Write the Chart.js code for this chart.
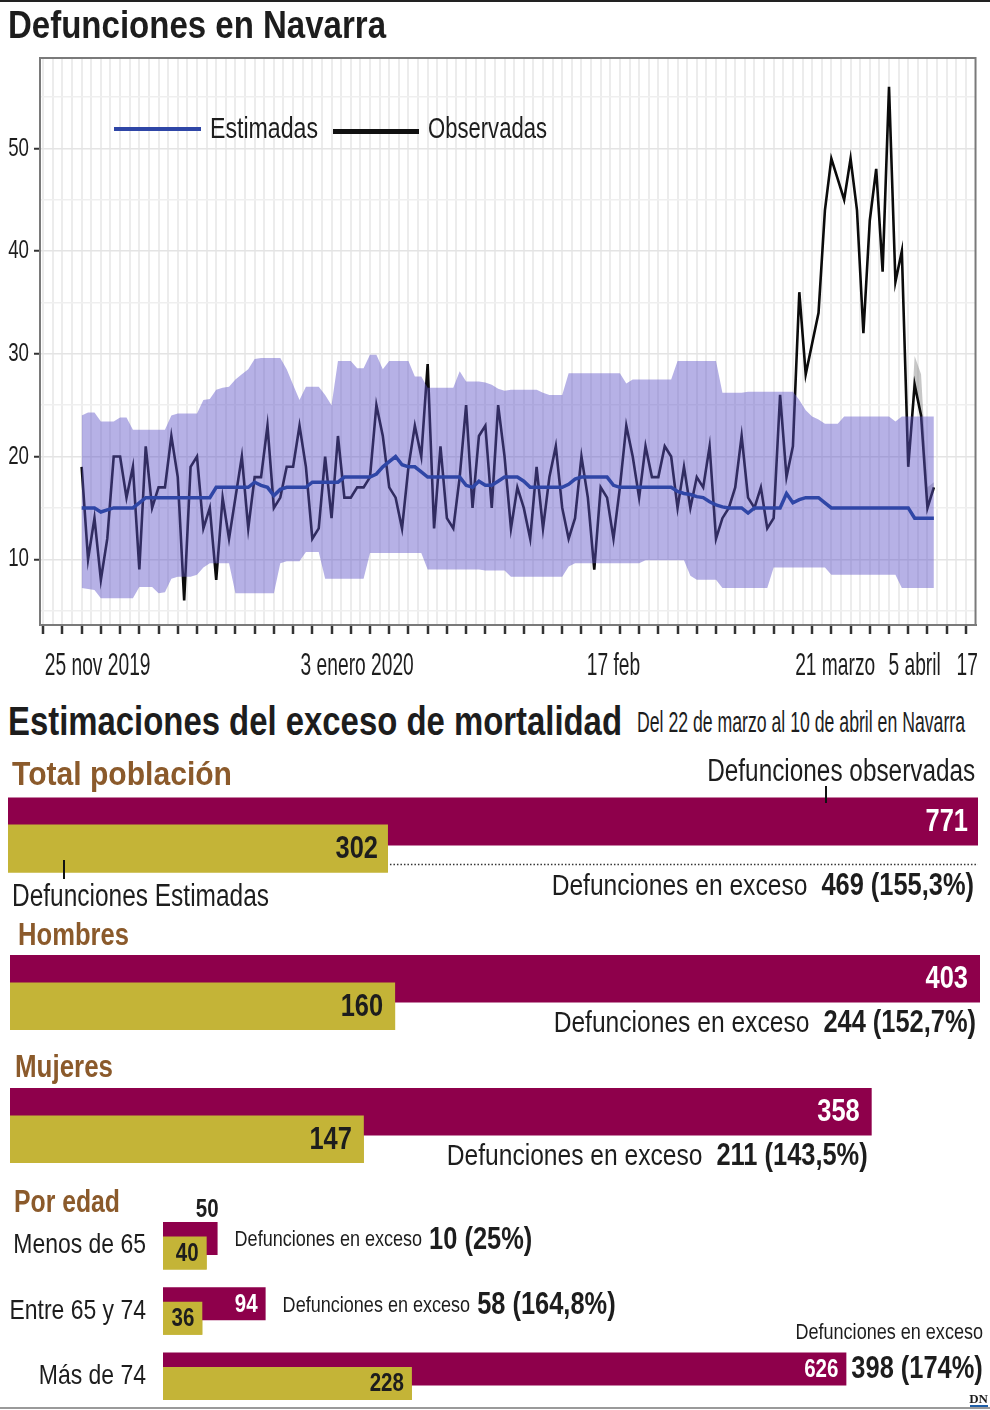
<!DOCTYPE html>
<html lang="es">
<head>
<meta charset="utf-8">
<title>Defunciones en Navarra</title>
<script src="https://cdn.jsdelivr.net/npm/chart.js"></script>
<style>
  html, body { margin: 0; padding: 0; background: #fff; }
  body { position: relative; width: 990px; height: 1410px; overflow: hidden;
         font-family: 'Liberation Sans', Arial, sans-serif; color: #1d1d1d; }
  canvas { position: absolute; left: 0; }
  .t { position: absolute; white-space: nowrap; line-height: 1; transform-origin: left top; }
  .d { transform-origin: right top; }
  .b { font-weight: bold; }
  .cafe { color: #8b5a2b; }
  .raya { position: absolute; background: #111; }
</style>
</head>
<body>
<div class="raya" style="left:0;top:0;width:990px;height:2px;background:#222"></div>

<canvas id="serie" width="990" height="690" style="top:0"></canvas>
<canvas id="total" width="990" height="130" style="top:780px"></canvas>
<canvas id="sexo" width="990" height="310" style="top:900px"></canvas>
<canvas id="edad" width="990" height="264" style="top:1179px"></canvas>

<div class="t b" data-w="378" style="left:8px;top:6px;font-size:38px">Defunciones en Navarra</div>

<!-- leyenda del gráfico de líneas -->
<div class="raya" style="left:114px;top:127px;width:87px;height:4px;background:#2f46a6"></div>
<div class="t" data-w="108" style="left:210px;top:114px;font-size:29px">Estimadas</div>
<div class="raya" style="left:333px;top:129px;width:86px;height:5px;background:#111"></div>
<div class="t" data-w="119" style="left:428px;top:114px;font-size:29px">Observadas</div>

<div class="t b" data-w="614" style="left:8px;top:701px;font-size:41px">Estimaciones del exceso de mortalidad</div>
<div class="t" data-w="328" style="left:637px;top:707px;font-size:30px">Del 22 de marzo al 10 de abril en Navarra</div>

<div class="t b cafe" data-w="220" style="left:12px;top:756px;font-size:34px">Total población</div>
<div class="t d" data-w="268" style="right:15px;top:755px;font-size:31px">Defunciones observadas</div>
<div class="raya" style="left:825px;top:786px;width:2px;height:17px"></div>
<div class="raya" style="left:63px;top:860px;width:2px;height:19px"></div>
<div class="t" data-w="257" style="left:12px;top:880px;font-size:31px">Defunciones Estimadas</div>

<div class="t b cafe" data-w="111" style="left:18px;top:918px;font-size:32px">Hombres</div>
<div class="t b cafe" data-w="98" style="left:15px;top:1050px;font-size:32px">Mujeres</div>
<div class="t b cafe" data-w="106" style="left:14px;top:1185px;font-size:32px">Por edad</div>

<div class="raya" style="left:0;top:1407px;width:990px;height:2px;background:#9a9a9a"></div>
<div class="t b" style="right:2px;top:1392px;font-family:'Liberation Serif',serif;font-size:13px">DN</div>
<div class="raya" style="right:2px;top:1405px;width:18px;height:2px;background:#1f5fa8"></div>

<script>
// Defunciones diarias, desde el 25 nov 2019 (un valor por día)
const observadas = [
  19, 10, 14, 8, 12, 20, 20, 16, 19, 9,
  21, 15, 17, 17, 22, 18, 6, 19, 20, 13,
  15, 8, 16, 12, 16, 20, 13, 18, 18, 23,
  15, 16, 19, 19, 23, 19, 12, 13, 20, 14,
  22, 16, 16, 17, 17, 18, 25, 22, 17, 16,
  13, 19, 23, 20, 29, 13, 21, 14, 13, 18,
  25, 15, 22, 23, 15, 25, 20, 13, 17, 15,
  12, 19, 13, 18, 21, 15, 12, 14, 20, 16,
  9, 17, 16, 12, 17, 23, 20, 16, 21, 18,
  18, 21, 20, 15, 19, 15, 18, 17, 21, 12,
  14, 15, 17, 22, 16, 15, 17, 13, 14, 26,
  18, 21, 36, 28, 31, 34, 44, 49, 47, 45,
  49, 44, 32, 43, 48, 38, 56, 37, 40, 19,
  27, 24, 15, 17
];
const estimadas = [
  15, 15, 15, 14.6, 14.8, 15, 15, 15, 15, 15.5,
  16, 16, 16, 16, 16, 16, 16, 16, 16, 16,
  16, 17, 17, 17, 17, 17, 17, 17.5, 17.2, 17,
  16.2, 16.8, 17, 17, 17, 17, 17.5, 17.5, 17.5, 17.5,
  17.5, 18, 18, 18, 18, 18, 18.3, 19, 19.5, 20,
  19.2, 19, 19, 18.5, 18, 18, 18, 18, 18, 18,
  17.2, 17, 17.6, 17.2, 17.2, 17.6, 18, 18, 18, 17.6,
  17, 17, 17, 17, 17, 17, 17.3, 17.8, 18, 18,
  18, 18, 18, 17.2, 17, 17, 17, 17, 17, 17,
  17, 17, 17, 16.6, 16.4, 16.3, 16.1, 16, 15.6, 15.3,
  15.1, 15, 15, 15, 14.5, 15, 15, 15, 15, 15,
  16.4, 15.5, 15.8, 16, 16, 16, 15.5, 15, 15, 15,
  15, 15, 15, 15, 15, 15, 15, 15, 15, 15,
  14, 14, 14, 14
];
const bandaSup = [
  24, 24.3, 24.3, 23.4, 23.4, 23.4, 23.8, 23.8, 22.6, 22.6,
  22.6, 22.6, 22.6, 22.6, 24, 24.2, 24.2, 24.2, 24.2, 25.5,
  25.6, 26.5, 26.7, 26.8, 27.5, 28, 28.5, 29.5, 29.6, 29.6,
  29.6, 29.6, 28.5, 27, 25.5, 26.8, 26.8, 26.8, 26, 25,
  29.3, 29.3, 29.3, 28.6, 28.6, 29.9, 29.9, 28.5, 29.3, 29.3,
  29.3, 29.3, 27.8, 27.8, 26.7, 26.7, 26.7, 26.7, 26.7, 28.3,
  27.3, 27.3, 27.3, 27.2, 27, 26.6, 26.4, 26.5, 26.5, 26.5,
  26.5, 26.5, 26.2, 26, 26, 26, 28.1, 28.1, 28.1, 28.1,
  28.1, 28.1, 28.1, 28.1, 28.1, 27.1, 27.5, 27.5, 27.5, 27.5,
  27.5, 27.5, 27.5, 29.3, 29.3, 29.3, 29.3, 29.3, 29.3, 29.3,
  26.2, 26.2, 26.2, 26.2, 26.3, 26.3, 26.3, 26.3, 26.3, 26.3,
  26.3, 26.3, 25.5, 24.5, 23.9, 23.6, 23.2, 23.2, 23.2, 23.9,
  23.9, 23.9, 23.9, 23.9, 23.9, 23.9, 23.9, 23.4, 23.9, 23.9,
  23.9, 23.9, 23.9, 23.9
];
const bandaInf = [
  7.2, 7.1, 7, 6.2, 6.2, 6.2, 6.2, 6.2, 6.2, 7.3,
  7.3, 7.3, 6.7, 6.8, 8.1, 8.3, 8.3, 8.3, 8.5, 9.2,
  9.6, 9.6, 9.6, 9.6, 6.7, 6.7, 6.7, 6.7, 6.7, 6.7,
  6.7, 9.6, 9.8, 9.8, 9.8, 10.7, 10.7, 10.7, 8.1, 8.1,
  8.1, 8.1, 8.1, 8.1, 8.1, 10.6, 10.6, 10.6, 10.6, 10.6,
  10.6, 10.6, 10.6, 10.6, 9, 9, 9, 9, 9, 9,
  9, 9, 9, 8.9, 8.9, 8.9, 8.9, 8.3, 8.3, 8.3,
  8.3, 8.3, 8.3, 8.3, 8.3, 8.3, 9.3, 9.6, 9.6, 9.6,
  9.6, 9.6, 9.6, 9.6, 9.6, 9.6, 9.6, 9.6, 9.9, 9.9,
  9.9, 9.9, 9.9, 9.9, 9.9, 8.4, 8, 8, 8, 8,
  7.2, 7.2, 7.2, 7.2, 7.2, 7.2, 7.2, 7.2, 9.2, 9.2,
  9.2, 9.2, 9.2, 9.2, 9.2, 9.2, 9.2, 8.5, 8.5, 8.5,
  8.5, 8.5, 8.5, 8.5, 8.5, 8.5, 8.5, 8.5, 7.2, 7.2,
  7.2, 7.2, 7.2, 7.2
];
// margen gris de las últimas observadas (solo los días finales)
const observadasSup = observadas.map(() => null);
[19, 29.8, 28, 17, 17.5].forEach((v, i) => { observadasSup[129 + i] = v; });

// etiquetas del eje de fechas (posición en días desde el 25 nov)
const etiquetasX = ['25 nov 2019', '3 enero 2020', '17 feb', '21 marzo', '5 abril', '17'];
const posEtiquetasX = [2.5, 43, 83, 117.6, 130, 138.2];
const etiquetasY = [10, 20, 30, 40, 50];

// exceso de mortalidad, del 22 de marzo al 10 de abril
const totalObservadas = [771];
const totalEstimadas = [302];
const excesoTotal = ['469 (155,3%)'];

const sexos = ['Hombres', 'Mujeres'];
const sexoObservadas = [403, 358];
const sexoEstimadas = [160, 147];
const excesoSexo = ['244 (152,7%)', '211 (143,5%)'];

const edades = ['Menos de 65', 'Entre 65 y 74', 'Más de 74'];
const edadObservadas = [50, 94, 626];
const edadEstimadas = [40, 36, 228];
const excesoEdad = ['10 (25%)', '58 (164,8%)', '398 (174%)'];

const FONT = "'Liberation Sans', Arial, sans-serif";
const MAGENTA = '#8e004b';
const OLIVA = '#c4b437';
Chart.defaults.font.family = FONT;
Chart.defaults.color = '#1d1d1d';
Chart.defaults.animation = false;

// ajusta el ancho de los textos html al del original (letra estrecha)
document.querySelectorAll('[data-w]').forEach(el => {
  const w = el.getBoundingClientRect().width;
  el.style.transform = 'scaleX(' + (el.dataset.w / w) + ')';
});

// no hay fuente estrecha instalada: se comprime el texto del canvas en horizontal
// (o.k es un número o un objeto {base, <tamaño en px>: factor})
const estrecho = {
  id: 'estrecho',
  beforeInit(chart, args, o) {
    const ctx = chart.ctx;
    const fill = ctx.fillText;
    const measure = ctx.measureText;
    const factor = () => {
      if (typeof o.k === 'number') return o.k;
      const m = /(\d+(?:\.\d+)?)px/.exec(ctx.font);
      return (m && o.k[m[1]]) || o.k.base;
    };
    ctx.fillText = function (text, x, y) {
      const k = factor();
      this.save();
      this.translate(x, y);
      this.scale(k, 1);
      fill.call(this, text, 0, 0);
      this.restore();
    };
    ctx.measureText = function (text) {
      const k = factor();
      const m = measure.call(this, text);
      return {
        width: m.width * k,
        actualBoundingBoxAscent: m.actualBoundingBoxAscent,
        actualBoundingBoxDescent: m.actualBoundingBoxDescent,
        actualBoundingBoxLeft: m.actualBoundingBoxLeft * k,
        actualBoundingBoxRight: m.actualBoundingBoxRight * k
      };
    };
  }
};

// marco gris alrededor del área del gráfico
const marco = {
  id: 'marco',
  afterDraw(chart) {
    const { ctx, chartArea: a } = chart;
    ctx.save();
    ctx.strokeStyle = '#7a7a7a';
    ctx.lineWidth = 2;
    ctx.strokeRect(a.left, a.top, a.right - a.left, a.bottom - a.top);
    ctx.restore();
  }
};

const dias = observadas.map((_, i) => i);
const rejillaX = [];
for (let d = -6; d < 139.5; d += 1.5) rejillaX.push(d);
const rejillaY = [];
for (let v = 5; v <= 55; v += 5) rejillaY.push(v);

new Chart(document.getElementById('serie'), {
  type: 'line',
  data: {
    labels: dias,
    datasets: [
      { label: 'Estimadas', data: estimadas, borderColor: '#2f46a6', borderWidth: 3.5, pointRadius: 0, fill: false },
      { label: 'Banda superior', data: bandaSup, borderColor: 'rgba(0,0,0,0)', borderWidth: 0, pointRadius: 0,
        backgroundColor: 'rgba(95, 85, 200, 0.46)', fill: '+1' },
      { label: 'Banda inferior', data: bandaInf, borderColor: 'rgba(0,0,0,0)', borderWidth: 0, pointRadius: 0, fill: false },
      { label: 'Observadas', data: observadas, borderColor: '#0b0b0b', borderWidth: 2.6, pointRadius: 0, fill: false },
      { label: 'Observadas sup', data: observadasSup, borderColor: 'rgba(0,0,0,0)', borderWidth: 0, pointRadius: 0,
        backgroundColor: 'rgba(130,130,130,0.45)', fill: 3 }
    ]
  },
  options: {
    responsive: false,
    animation: false,
    layout: { padding: { top: 58, right: 14, left: 0, bottom: 0 } },
    plugins: { legend: { display: false }, tooltip: { enabled: false }, estrecho: { k: { base: 0.72, 32: 0.6 } } },
    scales: {
      x: {
        type: 'linear', min: -6.5, max: 139.5, weight: 0,
        afterBuildTicks: s => { s.ticks = rejillaX.map(v => ({ value: v })); },
        ticks: { display: false },
        grid: {
          color: '#ececec', lineWidth: 2, tickLength: 9, tickWidth: 2.5,
          tickColor: c => (c.tick && c.tick.value % 3 === 0) ? '#333' : 'rgba(0,0,0,0)'
        },
        border: { color: '#7a7a7a', width: 2 },
        afterFit: s => { s.height = 10; }
      },
      fechas: {
        type: 'linear', position: 'bottom', min: -6.5, max: 139.5, weight: 1,
        afterBuildTicks: s => { s.ticks = posEtiquetasX.map(v => ({ value: v })); },
        ticks: { autoSkip: false, maxRotation: 0, font: { size: 32 }, padding: 12,
                 callback: (v, i) => etiquetasX[i] },
        grid: { display: false, drawTicks: false },
        border: { display: false },
        afterFit: s => { s.height = 55; }
      },
      y: {
        min: 3.6, max: 58.8,
        afterBuildTicks: s => { s.ticks = rejillaY.map(v => ({ value: v })); },
        ticks: { font: { size: 26 }, padding: 5, callback: v => etiquetasY.includes(v) ? String(v) : '' },
        grid: {
          color: c => (c.tick && etiquetasY.includes(c.tick.value)) ? '#e4e4e4' : '#efefef',
          lineWidth: 1.5, tickLength: 6, tickWidth: 2,
          tickColor: c => (c.tick && etiquetasY.includes(c.tick.value)) ? '#333' : 'rgba(0,0,0,0)'
        },
        border: { color: '#7a7a7a', width: 2 },
        afterFit: s => { s.width = 40; }
      }
    }
  },
  plugins: [estrecho, marco]
});

// cifras de las barras y texto del exceso
const etiquetasBarras = {
  id: 'etiquetasBarras',
  afterDatasetsDraw(chart, args, o) {
    const ctx = chart.ctx;
    const obsBars = chart.getDatasetMeta(0).data;
    const estBars = chart.getDatasetMeta(1).data;
    const obs = chart.data.datasets[0].data;
    const est = chart.data.datasets[1].data;
    // las estimadas van por encima de las observadas
    estBars.forEach(b => b.draw(ctx));

    ctx.save();
    obsBars.forEach((bo, i) => {
      const be = estBars[i];
      ctx.font = 'bold ' + o.valor + 'px ' + FONT;
      ctx.textAlign = 'right';
      ctx.textBaseline = 'middle';
      const wo = ctx.measureText(String(obs[i])).width;
      if (bo.x - o.pad - wo > be.x + 4) {
        ctx.fillStyle = '#fff';
        ctx.fillText(obs[i], bo.x - o.pad, bo.y + 1);
      } else {
        ctx.fillStyle = '#1d1d1d';
        ctx.textBaseline = 'bottom';
        ctx.fillText(obs[i], bo.x + 1, bo.y - bo.height / 2 + 1);
        ctx.textBaseline = 'middle';
      }
      ctx.fillStyle = '#1d1d1d';
      ctx.fillText(est[i], be.x - o.pad, be.y + 1);

      if (o.punteado) {
        const y = be.y + be.height / 2 - 8;
        ctx.save();
        ctx.strokeStyle = '#333';
        ctx.lineWidth = 1.5;
        ctx.setLineDash([1.5, 2]);
        ctx.beginPath();
        ctx.moveTo(be.x + 2, y);
        ctx.lineTo(bo.x, y);
        ctx.stroke();
        ctx.restore();
      }

      const txt = 'Defunciones en exceso';
      const normal = o.nota + 'px ' + FONT;
      const fuerte = 'bold 31px ' + FONT;
      ctx.font = normal;
      const w1 = ctx.measureText(txt).width;
      ctx.font = fuerte;
      const w2 = ctx.measureText(o.exceso[i]).width;
      ctx.textAlign = 'left';
      if (o.modo === 'debajo') {
        const xr = bo.x - 4, y = be.y + o.dy;
        ctx.fillText(o.exceso[i], xr - w2, y);
        ctx.font = normal;
        ctx.fillText(txt, xr - w2 - o.gap - w1, y);
      } else {
        const x = bo.x + 17;
        if (x + w1 + o.gap + w2 > chart.width - 5) {
          ctx.fillText(o.exceso[i], bo.x + 5, bo.y);
          ctx.font = normal;
          ctx.textAlign = 'right';
          ctx.fillText(txt, chart.width - 7, bo.y - 36);
        } else {
          ctx.fillText(o.exceso[i], x + w1 + o.gap, bo.y + 2);
          ctx.font = normal;
          ctx.fillText(txt, x, bo.y + 2);
        }
      }
    });
    ctx.restore();
  }
};

function graficoBarras(id, etiquetas, obs, est, o) {
  return new Chart(document.getElementById(id), {
    type: 'bar',
    data: {
      labels: etiquetas,
      datasets: [
        { label: 'Defunciones observadas', data: obs, backgroundColor: MAGENTA,
          categoryPercentage: o.cat, barPercentage: o.bar },
        { label: 'Defunciones estimadas', data: est, backgroundColor: OLIVA,
          categoryPercentage: o.cat, barPercentage: o.bar }
      ]
    },
    options: {
      indexAxis: 'y',
      responsive: false,
      animation: false,
      layout: { padding: o.padding },
      plugins: {
        legend: { display: false }, tooltip: { enabled: false },
        estrecho: { k: 0.82 }, etiquetasBarras: o.etiquetas
      },
      scales: {
        x: { display: false, min: 0, max: o.max },
        y: o.ejeY || { display: false }
      }
    },
    plugins: [estrecho, etiquetasBarras]
  });
}

graficoBarras('total', ['Total población'], totalObservadas, totalEstimadas, {
  cat: 0.491, bar: 1.778, max: 771,
  padding: { left: 8, right: 12, top: 0, bottom: 20 },
  etiquetas: { exceso: excesoTotal, valor: 31, pad: 10, nota: 30, gap: 14, modo: 'debajo', dy: 38, punteado: true }
});

graficoBarras('sexo', sexos, sexoObservadas, sexoEstimadas, {
  cat: 0.4135, bar: 1.727, max: 403,
  padding: { left: 10, right: 10, top: 26, bottom: 18 },
  etiquetas: { exceso: excesoSexo, valor: 31, pad: 12, nota: 30, gap: 14, modo: 'debajo', dy: 17 }
});

graficoBarras('edad', edades, edadObservadas, edadEstimadas, {
  cat: 0.444, bar: 2.276, max: 753,
  padding: { left: 0, right: 5, top: 34, bottom: 34 },
  ejeY: {
    grid: { display: false, drawTicks: false },
    border: { display: false },
    ticks: { font: { size: 28 }, padding: 17 },
    afterFit: s => { s.width = 163; }
  },
  etiquetas: { exceso: excesoEdad, valor: 25, pad: 8, nota: 22, gap: 7, modo: 'detras' }
});
</script>
</body>
</html>
